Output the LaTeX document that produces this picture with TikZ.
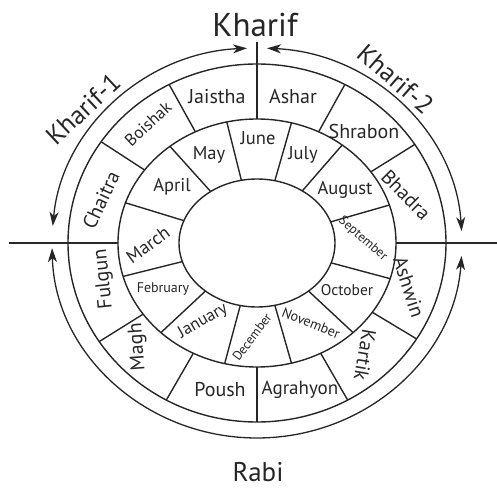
\documentclass[tikz,border=0pt]{standalone}
\usepackage{fontspec}
\setmainfont{PT Sans}
\usepackage{tikz}
\usetikzlibrary{arrows.meta}

\begin{document}
\begin{tikzpicture}[
    x=1pt, y=1pt,
    ring/.style   = {draw=black!85, line width=1.4pt},
    arr/.style    = {draw=black!85, line width=1.3pt, <->,
                     >={Stealth[length=14pt, width=9pt, inset=4pt]}},
    season/.style = {text=black!85, font=\fontsize{33}{33}\selectfont, inner sep=0pt},
    sub/.style    = {text=black!85, font=\fontsize{26}{26}\selectfont, inner sep=0pt},
    bmon/.style   = {text=black!85, font=\fontsize{20}{20}\selectfont, inner sep=0pt},
    emon/.style   = {text=black!85, font=\fontsize{18.5}{18.5}\selectfont, inner sep=0pt},
    smon/.style   = {text=black!85, font=\fontsize{13}{13}\selectfont, inner sep=0pt}
  ]
  \useasboundingbox (-257,-244) rectangle (240,243);

  \draw[ring] (0,0) ellipse [x radius=189pt, y radius=179pt];
  \draw[ring] (0,0) ellipse [x radius=139pt, y radius=124pt];
  \draw[ring] (0,0) ellipse [x radius=78pt,  y radius=64pt];

  \begin{scope}[even odd rule]
    \clip (0,0) ellipse [x radius=189pt, y radius=179pt]
          (0,0) ellipse [x radius=139pt, y radius=124pt];
    \foreach \a in {32,61,119,147,-148,-120,-90,-60,-31}
      \draw[ring] (0,0) -- (\a:260pt);
  \end{scope}
  \begin{scope}[even odd rule]
    \clip (0,0) ellipse [x radius=139pt, y radius=124pt]
          (0,0) ellipse [x radius=78pt,  y radius=64pt];
    \foreach \a in {104,74,49,16,-15,-43,-74,-105,-137,-166,163,132}
      \draw[ring] (0,0) -- (\a:200pt);
  \end{scope}

  \draw[ring] (0,201) -- (0,124);
  \draw[ring] (-248,0) -- (-139,0);
  \draw[ring] (139,0) -- (240,0);

  \draw[arr] (92.8:205pt and 195pt) arc[start angle=92.8, end angle=175, x radius=205pt, y radius=195pt];
  \draw[arr] (87.2:205pt and 195pt) arc[start angle=87.2, end angle=3.5, x radius=205pt, y radius=195pt];
  \draw[arr] (181.5:205pt and 195pt) arc[start angle=181.5, end angle=356.2, x radius=205pt, y radius=195pt];

  \node[season, anchor=base] (kharif) at (-2,206) {Kharif};
  \node[season, anchor=base, font=\fontsize{27}{27}\selectfont] (rabi) at (1,-238) {Rabi};
  \node[sub, rotate=43]  (kharif1) at (-174,134) {Kharif-1};
  \node[sub, rotate=-41] (kharif2) at (139,164)  {Kharif-2};

  \node[bmon, rotate=43, font=\fontsize{17}{17}\selectfont] (boishak) at (-109,119) {Boishak};
  \node[bmon]              (jaistha)  at (-40,146)  {Jaistha};
  \node[bmon]              (ashar)    at (36,146)   {Ashar};
  \node[bmon]              (shrabon)  at (107,111)  {Shrabon};
  \node[bmon, rotate=-45]  (bhadra)   at (149,48)   {Bhadra};
  \node[bmon, rotate=-72]  (ashwin)   at (152,-44)  {Ashwin};
  \node[bmon, rotate=-100] (kartik)   at (108,-112) {Kartik};
  \node[bmon, font=\fontsize{19}{19}\selectfont] (agrahyon) at (43,-147) {Agrahyon};
  \node[bmon]              (poush)    at (-37,-147) {Poush};
  \node[bmon, rotate=94]   (magh)     at (-119,-104) {Magh};
  \node[bmon, rotate=96]   (fulgun)   at (-153,-36) {Fulgun};
  \node[bmon, rotate=65]   (chaitra)  at (-156,43)  {Chaitra};

  \node[emon]              (june)  at (1,105)   {June};
  \node[emon]              (july)  at (46,88)   {July};
  \node[emon]              (aug)   at (88,53)   {August};
  \node[smon, rotate=-41]  (sep)   at (106,4)   {September};
  \node[emon, font=\fontsize{15.5}{15.5}\selectfont] (oct) at (90,-47) {October};
  \node[smon, rotate=-22, font=\fontsize{14}{14}\selectfont] (nov) at (54,-80) {November};
  \node[smon, rotate=53]   (dec)   at (-5,-94)  {December};
  \node[emon, rotate=30, font=\fontsize{17}{17}\selectfont] (jan) at (-54,-78) {January};
  \node[smon, font=\fontsize{14}{14}\selectfont] (feb) at (-94,-46) {February};
  \node[emon, rotate=36]   (mar)   at (-109,-2) {March};
  \node[emon]              (apr)   at (-85,56)  {April};
  \node[emon]              (may)   at (-48,88)  {May};
\end{tikzpicture}
\end{document}
